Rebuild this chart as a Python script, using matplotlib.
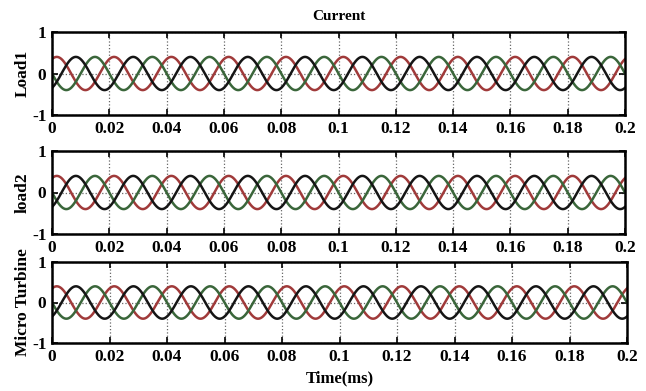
import numpy as np
import matplotlib.pyplot as plt

# panel names and signal parameters
panels = ['Load1', 'load2', 'Micro Turbine']
freq = 50.0                       # Hz, 10 cycles over 0.2
amps = [0.4, 0.4, 0.4]            # peak value of each phase
phases_deg = [60, 180, -60]       # red, green, black at t=0
colors = ['#a03a3a', '#3a663a', '#151515']
xticks = [0, 0.02, 0.04, 0.06, 0.08, 0.1, 0.12, 0.14, 0.16, 0.18, 0.2]
xticklabels = ['0', '0.02', '0.04', '0.06', '0.08', '0.1', '0.12', '0.14', '0.16', '0.18', '0.2']
yticks = [-1, 0, 1]

plt.rcParams['font.family'] = 'Liberation Serif'
plt.rcParams['font.weight'] = 'bold'
plt.rcParams['axes.unicode_minus'] = False

W, H = 646, 391
fig = plt.figure(figsize=(W/100, H/100), dpi=100)

# axes boxes in pixels: left, top, right, bottom
boxes = [(52, 32, 625, 115), (52, 151, 625, 234), (52, 262, 627, 343)]

t = np.linspace(0, 0.2, 2001)
for i, name in enumerate(panels):
    l, tp, r, b = boxes[i]
    ax = fig.add_axes([l/W, 1 - b/H, (r-l)/W, (b-tp)/H])
    for a, ph, c in zip(amps, phases_deg, colors):
        ax.plot(t, a*np.sin(2*np.pi*freq*t + np.deg2rad(ph)), color=c, lw=1.8)
    ax.set_xlim(0, 0.2)
    ax.set_ylim(-1, 1)
    ax.set_xticks(xticks)
    ax.set_xticklabels(xticklabels)
    ax.set_yticks(yticks)
    ax.set_yticklabels(['-1', '0', '1'])
    ax.grid(True, color='#666666', ls=':', lw=0.9)
    ax.tick_params(direction='in', top=True, right=True, length=4, width=1.2,
                   labelsize=12.5, pad=4)
    for lab in ax.get_xticklabels() + ax.get_yticklabels():
        lab.set_fontweight('bold')
    for s in ax.spines.values():
        s.set_linewidth(1.8)
    ax.set_ylabel(name, fontsize=12.5, fontweight='bold', labelpad=1)
    if i == 0:
        ax.set_title('Current', fontsize=11, fontweight='bold', pad=9)
    if i == 2:
        ax.set_xlabel('Time(ms)', fontsize=12, fontweight='bold', labelpad=4)

fig.savefig('out.png', dpi=100)
